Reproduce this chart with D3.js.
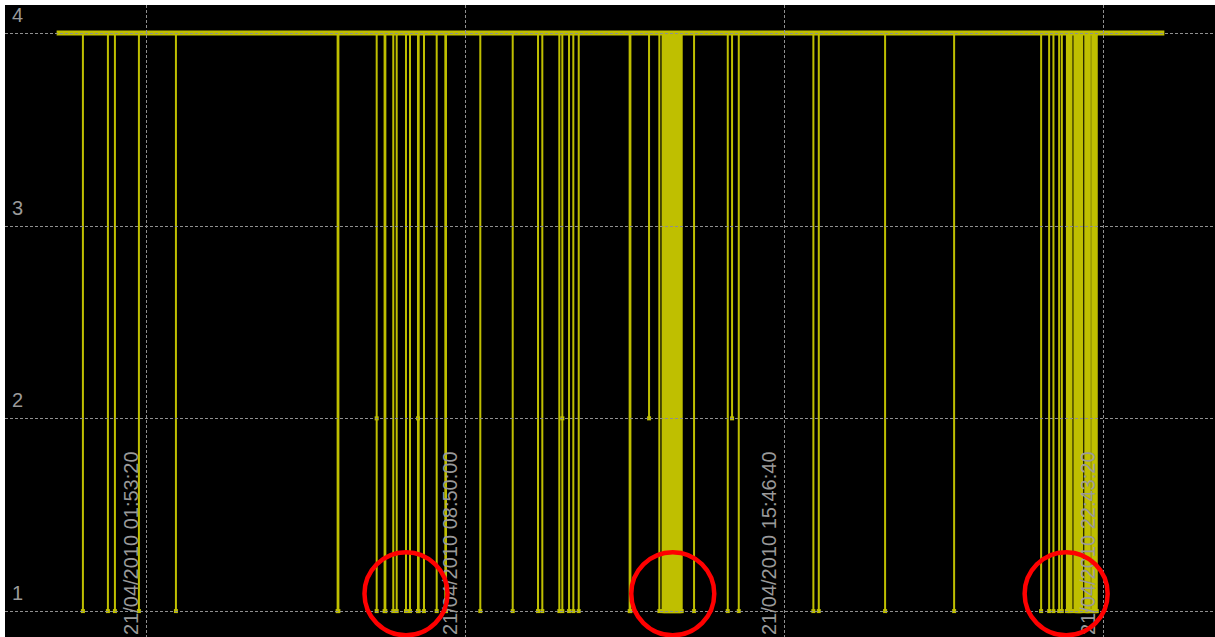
<!DOCTYPE html>
<html>
<head>
<meta charset="utf-8">
<script src="https://cdn.jsdelivr.net/npm/d3@7"></script>
<style>
  html, body { margin: 0; padding: 0; background: #fff; }
  svg { display: block; }
</style>
</head>
<body>
<div id="chart"></div>
<script>
// day of the recording
const day = "21/04/2010";
const rangeStart = "21/04/2010 00:00:00";
const rangeEnd = "22/04/2010 00:00:00";
const baseValue = 4;

// time of each drop and the value it drops to
const dipTimes = [
  "00:31:03", "01:03:42", "01:12:51", "01:44:11", "02:32:31",
  "06:03:40", "06:04:40", "06:54:40", "06:54:40", "07:05:00", "07:06:00",
  "07:16:21", "07:20:47", "07:32:56", "07:38:10", "07:48:37", "07:48:37",
  "07:49:30", "07:56:27", "08:13:02", "08:24:20", "08:25:10",
  "09:09:59", "09:52:18", "10:25:21", "10:30:58", "10:53:10",
  "10:57:06", "10:57:06", "11:05:51", "11:11:27", "11:18:31",
  "12:25:00", "12:26:00", "12:50:20", "13:03:47",
  "13:08:00", "13:09:00", "13:10:00", "13:11:00", "13:12:00", "13:13:00",
  "13:14:00", "13:15:00", "13:16:00", "13:17:00", "13:18:00", "13:19:00",
  "13:20:00", "13:21:00", "13:22:00", "13:23:00", "13:24:00", "13:25:00",
  "13:26:00", "13:27:00", "13:28:00", "13:29:00", "13:30:00", "13:31:00",
  "13:32:00", "13:33:00",
  "13:49:07", "14:33:08", "14:38:45", "14:47:30", "16:24:56", "16:32:00",
  "17:58:35", "19:28:43", "21:22:21", "21:32:48", "21:38:25", "21:45:52",
  "21:49:23", "21:56:00", "21:58:00", "22:00:00", "22:02:00", "22:05:51",
  "22:08:00", "22:09:00", "22:10:00", "22:11:00", "22:12:00", "22:13:00",
  "22:14:00", "22:15:00", "22:16:00",
  "22:20:00", "22:21:00", "22:22:00", "22:23:00", "22:24:00", "22:25:00",
  "22:26:00",
  "22:29:00", "22:30:00", "22:31:00", "22:32:00", "22:33:00", "22:34:00",
  "22:35:00"
];
const dipValues = [
  1, 1, 1, 1, 1,
  1, 1, 2, 1, 1, 1,
  1, 1, 1, 1, 2, 1,
  1, 1, 1, 1, 1,
  1, 1, 1, 1, 1,
  2, 1, 1, 1, 1,
  1, 1, 2, 1,
  1, 1, 1, 1, 1, 1,
  1, 1, 1, 1, 1, 1,
  1, 1, 1, 1, 1, 1,
  1, 1, 1, 1, 1, 1,
  1, 1,
  1, 1, 2, 1, 1, 1,
  1, 1, 1, 1, 1, 1,
  1, 1, 1, 1, 1, 1,
  1, 1, 1, 1, 1, 1,
  1, 1, 1,
  1, 1, 1, 1, 1, 1,
  1,
  1, 1, 1, 1, 1, 1,
  1
];

// axis ticks
const xTickTimes = ["01:53:20", "08:50:00", "15:46:40", "22:43:20"];
const xTickLabels = ["21/04/2010 01:53:20", "21/04/2010 08:50:00", "21/04/2010 15:46:40", "21/04/2010 22:43:20"];
const yTicks = [1, 2, 3, 4];

// red rings drawn over the chart: time, value
const ringTimes = ["07:32:56", "13:21:18", "21:55:00"];
const ringValues = [1.09, 1.09, 1.09];

const parse = d3.utcParse("%d/%m/%Y %H:%M:%S");
const atDay = s => parse(`${day} ${s}`);

const width = 1215, height = 637;
const plot = {left: 4, top: 4, right: 1217, bottom: 640};
const yellow = "#bfbf00";

const svg = d3.select("#chart").append("svg")
  .attr("width", width)
  .attr("height", height);

svg.append("rect")
  .attr("x", 5).attr("y", 5)
  .attr("width", width).attr("height", height)
  .attr("fill", "#000");

const t0 = parse(rangeStart), t1 = parse(rangeEnd);
const pad = (t1 - t0) * 0.05;
const x = d3.scaleUtc()
  .domain([new Date(+t0 - pad), new Date(+t1 + pad)])
  .range([plot.left, plot.right]);

const y = d3.scaleLinear()
  .domain([1 - 0.15, 4 + 0.15])
  .range([plot.bottom, plot.top]);

const dips = dipTimes.map((s, i) => ({t: atDay(s), v: dipValues[i]}));

// line: baseline, each drop goes down and back up
const pts = [{t: t0, v: baseValue}];
dips.forEach(d => {
  pts.push({t: d.t, v: baseValue}, d, {t: d.t, v: baseValue});
});
pts.push({t: t1, v: baseValue});

const line = d3.line()
  .x(d => x(d.t))
  .y(d => y(d.v));

const g = svg.append("g");

g.append("path")
  .datum(pts)
  .attr("fill", "none")
  .attr("stroke", yellow)
  .attr("stroke-width", 2)
  .attr("d", line);

// dense markers along the baseline read as a thick band
g.append("path")
  .datum([{t: t0, v: baseValue}, {t: t1, v: baseValue}])
  .attr("fill", "none")
  .attr("stroke", yellow)
  .attr("stroke-width", 5)
  .attr("stroke-linecap", "square")
  .attr("d", line);

g.selectAll("rect.marker")
  .data(dips)
  .enter().append("rect")
    .attr("class", "marker")
    .attr("x", d => x(d.t) - 2)
    .attr("y", d => y(d.v) - 2)
    .attr("width", 4)
    .attr("height", 4)
    .attr("fill", yellow);

// grid
const grid = svg.append("g")
  .attr("stroke", "#8f8f8f")
  .attr("stroke-width", 1)
  .attr("stroke-dasharray", "3,2");

grid.selectAll("line.h")
  .data(yTicks)
  .enter().append("line")
    .attr("class", "h")
    .attr("x1", 5).attr("x2", width)
    .attr("y1", d => Math.round(y(d)) + 0.5)
    .attr("y2", d => Math.round(y(d)) + 0.5);

grid.selectAll("line.v")
  .data(xTickTimes)
  .enter().append("line")
    .attr("class", "v")
    .attr("x1", d => Math.round(x(atDay(d))) + 0.5)
    .attr("x2", d => Math.round(x(atDay(d))) + 0.5)
    .attr("y1", 5).attr("y2", height);

// labels
const font = "'Liberation Sans', Arial, sans-serif";

svg.append("g")
  .selectAll("text")
  .data(yTicks)
  .enter().append("text")
    .attr("x", 12)
    .attr("y", d => y(d) - 11)
    .attr("fill", "#9a9a9a")
    .style("font", `20px ${font}`)
    .text(d => d);

svg.append("g")
  .selectAll("text")
  .data(xTickTimes)
  .enter().append("text")
    .attr("transform", d => `translate(${x(atDay(d)) - 8},${635}) rotate(-90)`)
    .attr("fill", "#9a9a9a")
    .style("font", `20px ${font}`)
    .text((d, i) => xTickLabels[i]);

// highlight rings
svg.append("g")
  .selectAll("circle")
  .data(ringTimes)
  .enter().append("circle")
    .attr("cx", d => x(atDay(d)))
    .attr("cy", (d, i) => y(ringValues[i]))
    .attr("r", 41.5)
    .attr("fill", "none")
    .attr("stroke", "#ff0000")
    .attr("stroke-width", 4.5);
</script>
</body>
</html>
